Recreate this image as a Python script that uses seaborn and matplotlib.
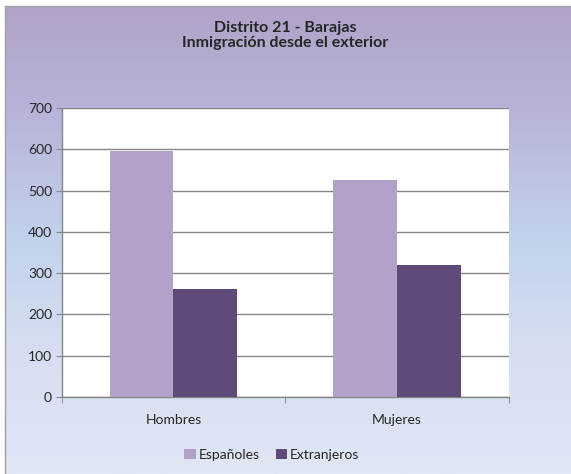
import numpy as np
import pandas as pd
import matplotlib.pyplot as plt
import seaborn as sns
from matplotlib.colors import LinearSegmentedColormap
from matplotlib.patches import Rectangle

# Data
categorias = ['Hombres', 'Mujeres']
espanoles = [596, 525]
extranjeros = [261, 320]
series = ['Españoles', 'Extranjeros']
colores = ['#B3A2C7', '#604A7B']

df = pd.DataFrame({
    'grupo': categorias * 2,
    'serie': [series[0]] * 2 + [series[1]] * 2,
    'valor': espanoles + extranjeros,
})

sns.set_style('white')
plt.rcParams['font.family'] = ['Lato', 'DejaVu Sans']

fig = plt.figure(figsize=(5.71, 4.74), dpi=100)

# gradient background of the chart area
bg = fig.add_axes([0, 0, 1, 1], zorder=-10)
cmap = LinearSegmentedColormap.from_list(
    'fondo', ['#B1A1C7', '#B7B5DA', '#C2D2EC', '#D6DFF1', '#E0E6F4'])
grad = np.linspace(0, 1, 256).reshape(-1, 1)
bg.imshow(grad, aspect='auto', cmap=cmap, extent=[0, 1, 0, 1], origin='upper')
# white margin on the left and top, as in the cropped screenshot
bg.add_patch(Rectangle((0, 0), 0.009, 1, color='white', lw=0))
bg.add_patch(Rectangle((0, 0.987), 1, 0.013, color='white', lw=0))
bg.plot([0.0095, 0.0095], [0, 0.987], color='#A0A0A0', lw=1)
bg.plot([0.0095, 1], [0.987, 0.987], color='#A0A0A0', lw=1)
bg.set_xlim(0, 1)
bg.set_ylim(0, 1)
bg.axis('off')

ax = fig.add_axes([0.108, 0.1625, 0.783, 0.6095])
sns.barplot(data=df, x='grupo', y='valor', hue='serie', palette=colores,
            width=0.57, gap=0, saturation=1, ax=ax, legend=True, zorder=3)
for p in ax.patches:
    p.set_edgecolor('none')

ax.set_xlim(-0.5, 1.5)
ax.set_ylim(0, 700)
ax.set_yticks(range(0, 701, 100))
ax.yaxis.grid(True, color='#868686', linewidth=1)
ax.set_axisbelow(True)
ax.set_facecolor('white')
for s in ['top', 'right']:
    ax.spines[s].set_visible(False)
for s in ['left', 'bottom']:
    ax.spines[s].set_color('#868686')
    ax.spines[s].set_linewidth(1)
ax.set_xlabel('')
ax.set_ylabel('')
ax.tick_params(axis='y', length=4, color='#868686', labelsize=10, pad=3,
               left=True, direction='out')
ax.set_xticks([-0.5, 0.5, 1.5], minor=True)
ax.tick_params(axis='x', which='major', length=0, labelsize=10, pad=12)
ax.tick_params(axis='x', which='minor', length=4, color='#868686',
               bottom=True, direction='out')

handles, labels = ax.get_legend_handles_labels()
ax.legend(handles, labels, loc='center', bbox_to_anchor=(0.47, -0.2),
          ncol=2, frameon=False, fontsize=10, handlelength=0.8,
          handleheight=0.8, handletextpad=0.2, columnspacing=1.2)

fig.text(0.5, 0.925, 'Distrito 21 - Barajas\nInmigración desde el exterior',
         ha='center', va='center', fontsize=11.5, fontweight='bold',
         linespacing=1.1)

fig.savefig('out.png', dpi=100)
